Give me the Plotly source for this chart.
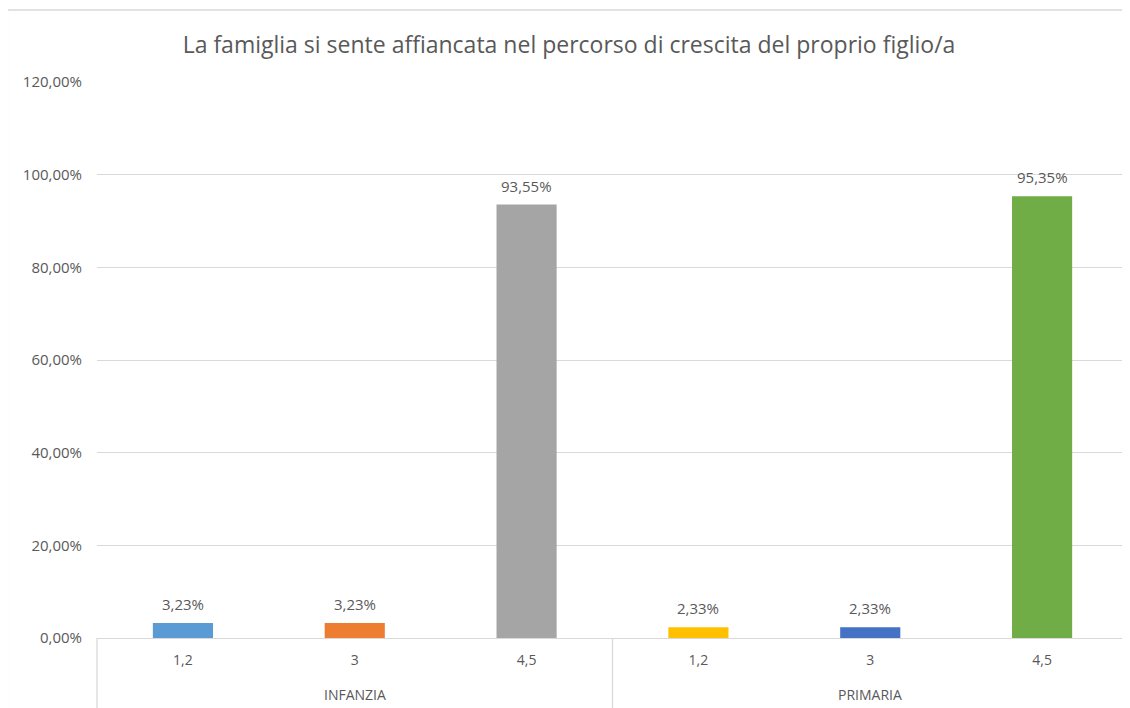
import plotly.graph_objects as go

groups = ["INFANZIA", "INFANZIA", "INFANZIA", "PRIMARIA", "PRIMARIA", "PRIMARIA"]
subcats = ["1,2", "3", "4,5", "1,2", "3", "4,5"]
values = [0.0323, 0.0323, 0.9355, 0.0233, 0.0233, 0.9535]
colors = ["#5B9BD5", "#ED7D31", "#A5A5A5", "#FFC000", "#4472C4", "#70AD47"]
title = "La famiglia si sente affiancata nel percorso di crescita del proprio figlio/a"

FONT = "Open Sans"
TXT = "#595959"
GRID = "#D9D9D9"

keys = [f"{g} {s}" for g, s in zip(groups, subcats)]

fig = go.Figure()
fig.add_trace(go.Bar(
    x=keys, y=values,
    marker=dict(color=colors, line=dict(width=0)),
    width=0.35,
    hoverinfo="skip",
))

for k, v in zip(keys, values):
    fig.add_annotation(
        x=k, y=v, text=f"{v*100:.2f}%".replace(".", ","),
        showarrow=False, yanchor="bottom", yshift=7,
        font=dict(family=FONT, size=15, color=TXT),
    )

# group labels, centred under each group's categories
uniq = list(dict.fromkeys(groups))
for g in uniq:
    idx = [i for i, gg in enumerate(groups) if gg == g]
    fig.add_annotation(
        x=sum(idx) / len(idx), xref="x", y=-0.1025, yref="paper",
        text=g, showarrow=False, yanchor="middle",
        font=dict(family=FONT, size=14, color=TXT),
    )

line = dict(color=GRID, width=1.3)
shapes = [dict(type="rect", xref="paper", yref="paper",
               x0=-0.087, x1=1.05, y0=-0.3, y1=1.1295,
               line=dict(color=GRID, width=1.5), layer="below")]
for xp in (0, 0.5, 1):
    shapes.append(dict(type="line", xref="paper", yref="paper",
                       x0=xp, x1=xp, y0=0, y1=-0.2, line=line, layer="below"))

fig.update_layout(
    width=1122, height=700,
    margin=dict(l=89, r=2, t=74, b=70),
    paper_bgcolor="white", plot_bgcolor="white",
    separators=",.",
    showlegend=False,
    title=dict(text=title, x=0.5, xanchor="center", y=0.947, yanchor="middle",
               font=dict(family=FONT, size=23, color=TXT)),
    bargap=0.65,
    shapes=shapes,
)
fig.update_yaxes(range=[0, 1.2], dtick=0.2, tickformat=".2%",
                 showgrid=True, gridcolor=GRID, gridwidth=1.3,
                 zeroline=False, showline=False, ticks="",
                 ticklabelstandoff=14,
                 tickfont=dict(family=FONT, size=15, color=TXT))
fig.update_xaxes(type="category", showgrid=False, showline=True,
                 linecolor=GRID, linewidth=1.3, ticks="",
                 tickmode="array", tickvals=keys, ticktext=subcats,
                 ticklabelstandoff=9,
                 tickfont=dict(family=FONT, size=14, color=TXT))

fig.write_html("out.html")
